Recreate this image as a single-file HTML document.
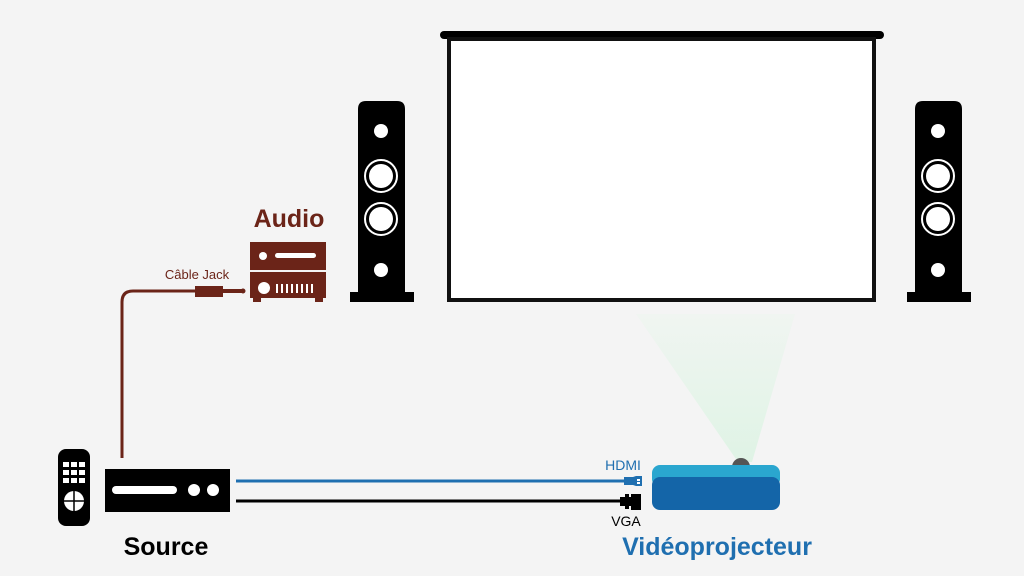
<!DOCTYPE html>
<html><head><meta charset="utf-8"><style>
html,body{margin:0;padding:0;background:#f4f4f4;}
svg{display:block;}
text{font-family:"Liberation Sans",sans-serif;}
</style></head><body>
<svg width="1024" height="576" viewBox="0 0 1024 576" xmlns="http://www.w3.org/2000/svg">
<defs>
<linearGradient id="cone" x1="0" y1="0" x2="0" y2="1">
<stop offset="0" stop-color="#f0f5f1"/>
<stop offset="1" stop-color="#dff3e5"/>
</linearGradient>
</defs>
<rect width="1024" height="576" fill="#f4f4f4"/>
<polygon points="636,314 795,314 752,462 738,462" fill="url(#cone)"/>
<rect x="440" y="31" width="444" height="8" rx="4" fill="#000"/>
<rect x="449" y="39" width="425" height="261" fill="#fff" stroke="#111" stroke-width="4"/>
<g id="spk">
<path d="M358,300 V109 Q358,101 366,101 H397 Q405,101 405,109 V300 Z" fill="#000"/>
<rect x="350" y="292" width="64" height="10" fill="#000"/>
<circle cx="381" cy="131" r="7" fill="#fff"/>
<circle cx="381" cy="176" r="16" fill="none" stroke="#fff" stroke-width="2"/>
<circle cx="381" cy="176" r="12" fill="#fff"/>
<circle cx="381" cy="219" r="16" fill="none" stroke="#fff" stroke-width="2"/>
<circle cx="381" cy="219" r="12" fill="#fff"/>
<circle cx="381" cy="270" r="7" fill="#fff"/>
</g>
<use href="#spk" transform="translate(557,0)"/>
<text x="289" y="227" font-size="25" font-weight="bold" fill="#6b2418" text-anchor="middle">Audio</text>
<g fill="#6b2418">
<rect x="250" y="242" width="76" height="28"/>
<rect x="250" y="272" width="76" height="26"/>
<rect x="253" y="297" width="8" height="5"/><rect x="315" y="297" width="8" height="5"/>
</g>
<g fill="#fff">
<circle cx="263" cy="256" r="4"/>
<rect x="275" y="253" width="41" height="5" rx="2.5"/>
<circle cx="264" cy="288" r="6"/>
<rect x="276" y="284" width="2" height="9"/><rect x="281" y="284" width="2" height="9"/><rect x="286" y="284" width="2" height="9"/><rect x="291" y="284" width="2" height="9"/><rect x="296" y="284" width="2" height="9"/><rect x="301" y="284" width="2" height="9"/><rect x="306" y="284" width="2" height="9"/><rect x="311" y="284" width="2" height="9"/>
</g>
<text x="197" y="279" font-size="13" fill="#6b2418" text-anchor="middle">Câble Jack</text>
<path d="M122,458 V302 Q122,291 133,291 H196" fill="none" stroke="#6b2418" stroke-width="3"/>
<rect x="195" y="286" width="28" height="11" fill="#6b2418"/>
<rect x="222" y="289" width="20" height="4" fill="#6b2418"/>
<circle cx="243" cy="291" r="2.5" fill="#6b2418"/>
<rect x="58" y="449" width="32" height="77" rx="8" fill="#000"/>
<g fill="#fff">
<rect x="63" y="462" width="6" height="5"/><rect x="71" y="462" width="6" height="5"/><rect x="79" y="462" width="6" height="5"/>
<rect x="63" y="470" width="6" height="5"/><rect x="71" y="470" width="6" height="5"/><rect x="79" y="470" width="6" height="5"/>
<rect x="63" y="478" width="6" height="5"/><rect x="71" y="478" width="6" height="5"/><rect x="79" y="478" width="6" height="5"/>
<circle cx="74" cy="501" r="10"/>
</g>
<path d="M64,501 H84 M74,491 V511" stroke="#000" stroke-width="1.5"/>
<rect x="105" y="469" width="125" height="43" fill="#000"/>
<rect x="112" y="486" width="65" height="8" rx="4" fill="#fff"/>
<circle cx="194" cy="490" r="6" fill="#fff"/>
<circle cx="213" cy="490" r="6" fill="#fff"/>
<text x="166" y="555" font-size="25" font-weight="bold" fill="#000" text-anchor="middle">Source</text>
<line x1="236" y1="481" x2="625" y2="481" stroke="#1f6fb0" stroke-width="3"/>
<path d="M624,477 L633,477 L636,476 H642 V486 H636 L633,485 H624 Z" fill="#1f6fb0"/>
<rect x="637" y="479" width="3" height="2" fill="#fff"/><rect x="637" y="482" width="3" height="2" fill="#fff"/>
<line x1="236" y1="501" x2="622" y2="501" stroke="#000" stroke-width="3"/>
<rect x="620" y="497" width="12" height="9" fill="#000"/>
<rect x="625" y="494" width="4" height="3" fill="#000"/><rect x="625" y="506" width="4" height="3" fill="#000"/>
<rect x="631" y="494" width="10" height="16" fill="#000"/>
<text x="623" y="470" font-size="14" fill="#1f6fb0" text-anchor="middle">HDMI</text>
<text x="626" y="526" font-size="14" fill="#000" text-anchor="middle">VGA</text>
<circle cx="741" cy="467" r="9" fill="#555"/>
<rect x="652" y="465" width="128" height="22" rx="8" fill="#2aa6cf"/>
<rect x="652" y="477" width="128" height="33" rx="8" fill="#1465a8"/>
<text x="717" y="555" font-size="25" font-weight="bold" fill="#1f6fb0" text-anchor="middle">Vidéoprojecteur</text>
</svg>
</body></html>
